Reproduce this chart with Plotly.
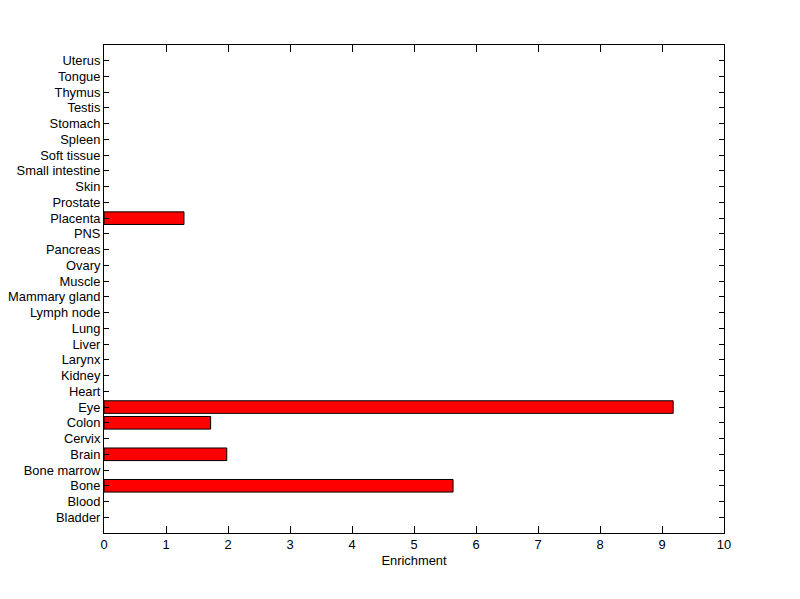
import plotly.graph_objects as go

categories = ["Bladder", "Blood", "Bone", "Bone marrow", "Brain", "Cervix", "Colon", "Eye",
              "Heart", "Kidney", "Larynx", "Liver", "Lung", "Lymph node", "Mammary gland",
              "Muscle", "Ovary", "Pancreas", "PNS", "Placenta", "Prostate", "Skin",
              "Small intestine", "Soft tissue", "Spleen", "Stomach", "Testis", "Thymus",
              "Tongue", "Uterus"]
enrichment = [0, 0, 5.63, 0, 1.98, 0, 1.72, 9.18,
              0, 0, 0, 0, 0, 0, 0,
              0, 0, 0, 0, 1.29, 0, 0,
              0, 0, 0, 0, 0, 0,
              0, 0]
x_ticks = list(range(0, 11))

idx = list(range(len(categories)))
xs = [v if v > 0 else None for v in enrichment]

fig = go.Figure(go.Bar(
    x=xs, y=idx, orientation="h", width=0.8,
    marker=dict(color="#ff0000", line=dict(color="black", width=1)),
))

font = dict(family="Liberation Sans, Arial, sans-serif", size=12.9, color="black")
fig.update_layout(
    width=800, height=599,
    margin=dict(l=96, r=84, t=37, b=74),
    paper_bgcolor="white", plot_bgcolor="white",
    font=font, showlegend=False,
    xaxis=dict(range=[0, 10], tickvals=x_ticks, ticks="inside", ticklen=7,
               tickcolor="black", showline=True, linecolor="black", linewidth=1,
               mirror="ticks", showgrid=False, zeroline=False, automargin=False,
               title=dict(text="Enrichment", font=font, standoff=4)),
    yaxis=dict(range=[-1, 30], tickvals=idx, ticktext=categories, ticks="inside",
               ticklen=5, tickcolor="black", showline=True, linecolor="black",
               linewidth=1, mirror="ticks", showgrid=False, zeroline=False,
               automargin=False),
)
fig.write_html("out.html")
